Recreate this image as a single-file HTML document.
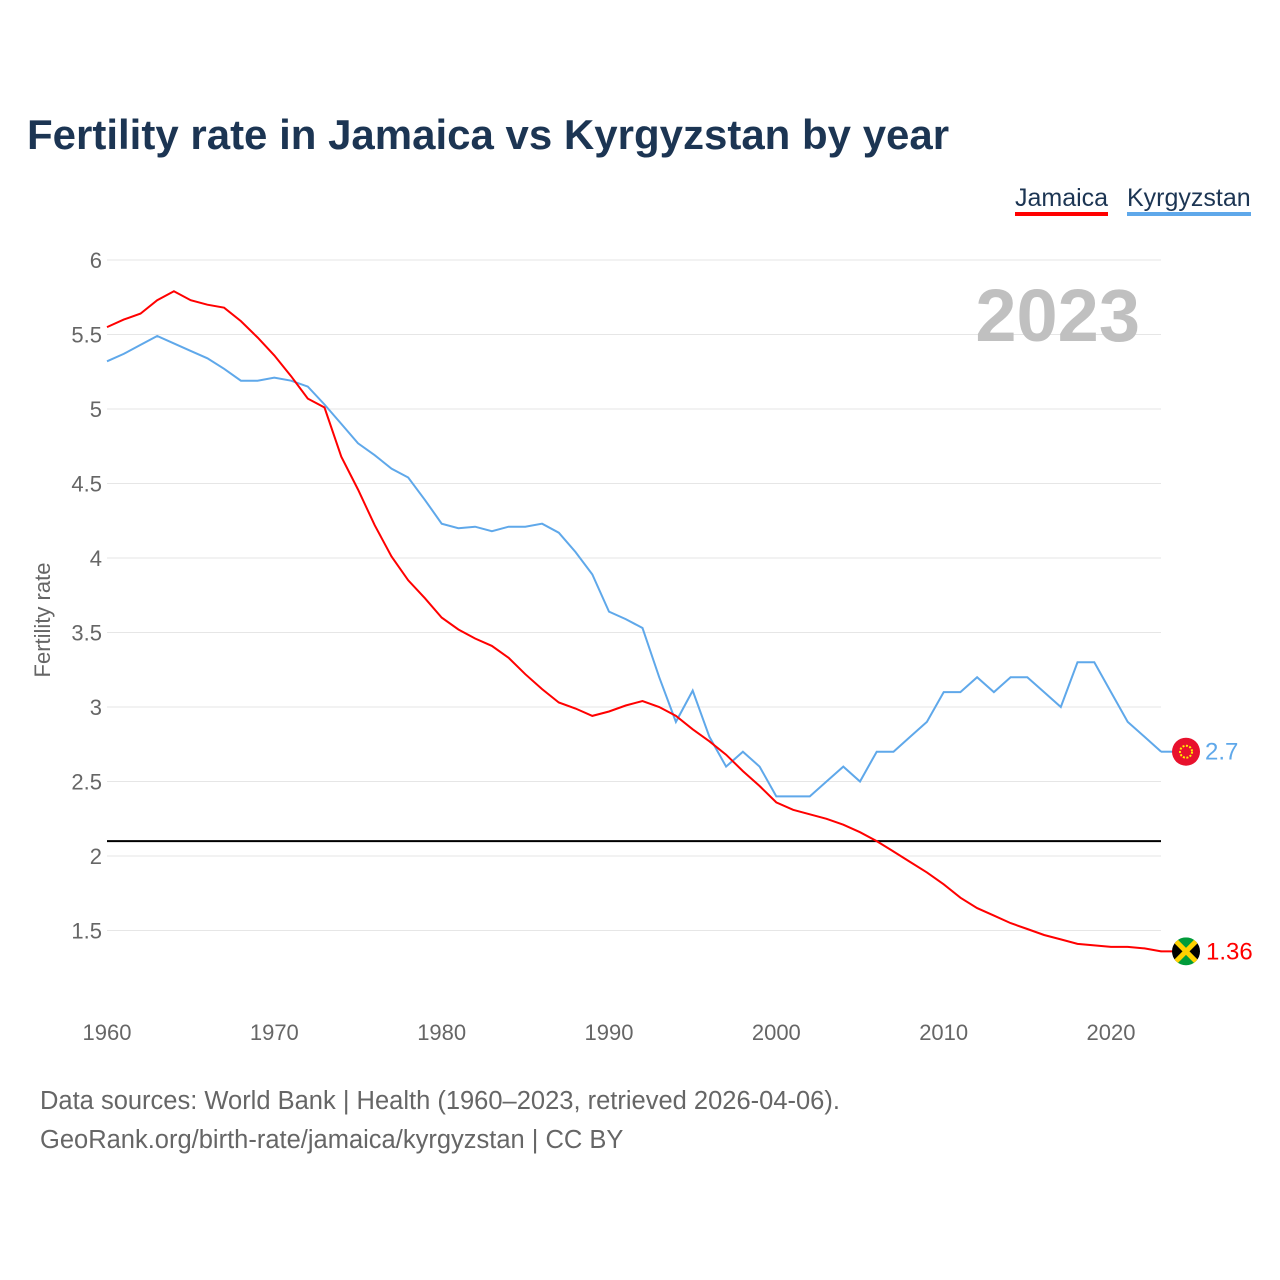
<!DOCTYPE html>
<html><head><meta charset="utf-8">
<style>
body{margin:0;background:#fff;font-family:"Liberation Sans",sans-serif;}
#wrap{position:relative;width:1280px;height:1280px;overflow:hidden;}
.t{position:absolute;white-space:nowrap;}
</style></head>
<body>
<div id="wrap">
<div class="t" style="left:27px;top:111px;font-size:42px;font-weight:bold;color:#1c3553;">Fertility rate in Jamaica vs Kyrgyzstan by year</div>
<div class="t" style="left:1015px;top:184px;font-size:25px;color:#1c3553;border-bottom:4px solid #ff0000;line-height:28px;">Jamaica</div>
<div class="t" style="left:1127px;top:184px;font-size:25px;color:#1c3553;border-bottom:4px solid #5fa8ea;line-height:28px;">Kyrgyzstan</div>
<div class="t" style="left:40px;top:1087px;font-size:25.5px;color:#666;">Data sources: World Bank | Health (1960–2023, retrieved 2026-04-06).</div>
<div class="t" style="left:40px;top:1126px;font-size:25.5px;color:#666;">GeoRank.org/birth-rate/jamaica/kyrgyzstan | CC BY</div>
<svg id="chart" width="1280" height="1280" style="position:absolute;left:0;top:0;"></svg>
</div>
<script>
const years=[];for(let y=1960;y<=2023;y++)years.push(y);
const jamaica=[5.55,5.60,5.64,5.73,5.79,5.73,5.70,5.68,5.59,5.48,5.36,5.22,5.07,5.01,4.68,4.46,4.22,4.01,3.85,3.73,3.60,3.52,3.46,3.41,3.33,3.22,3.12,3.03,2.99,2.94,2.97,3.01,3.04,3.00,2.94,2.85,2.77,2.68,2.57,2.47,2.36,2.31,2.28,2.25,2.21,2.16,2.10,2.03,1.96,1.89,1.81,1.72,1.65,1.60,1.55,1.51,1.47,1.44,1.41,1.40,1.39,1.39,1.38,1.36];
const kyrgyzstan=[5.32,5.37,5.43,5.49,5.44,5.39,5.34,5.27,5.19,5.19,5.21,5.19,5.15,5.03,4.90,4.77,4.69,4.60,4.54,4.39,4.23,4.20,4.21,4.18,4.21,4.21,4.23,4.17,4.04,3.89,3.64,3.59,3.53,3.20,2.90,3.11,2.80,2.60,2.70,2.60,2.40,2.40,2.40,2.50,2.60,2.50,2.70,2.70,2.80,2.90,3.10,3.10,3.20,3.10,3.20,3.20,3.10,3.00,3.30,3.30,3.10,2.90,2.80,2.70];
const yTicks=[1.5,2,2.5,3,3.5,4,4.5,5,5.5,6];
const xTicks=[1960,1970,1980,1990,2000,2010,2020];
const refValue=2.1;
const NS="http://www.w3.org/2000/svg";
const svg=document.getElementById('chart');
const X=y=>107+(y-1960)*(1004/60);
const Y=v=>260+(6-v)*149;
function mk(tag,attrs,txt){const e=document.createElementNS(NS,tag);for(const k in attrs)e.setAttribute(k,attrs[k]);if(txt!==undefined)e.textContent=txt;svg.appendChild(e);return e;}
yTicks.forEach(v=>{
  const g=mk('line',{x1:107,x2:1161,y1:Y(v),y2:Y(v),stroke:'#e6e6e6','stroke-width':1});
  
  
  const t=mk('text',{x:102,y:Y(v)+8,'text-anchor':'end','font-size':22,fill:'#666','font-family':'Liberation Sans'},String(v));
  
  
});
xTicks.forEach(v=>{
  const t=mk('text',{x:X(v),y:1040,'text-anchor':'middle','font-size':22,fill:'#666','font-family':'Liberation Sans'},String(v));
  
  
});
const yt=mk('text',{x:0,y:0,transform:'translate(50,620) rotate(-90)','text-anchor':'middle','font-size':22,fill:'#666','font-family':'Liberation Sans'},'Fertility rate');


const yr=mk('text',{x:1140,y:341,'text-anchor':'end','font-size':74,'font-weight':'bold',fill:'#c0c0c0','font-family':'Liberation Sans'},'2023');


const rl=mk('line',{x1:107,x2:1161,y1:Y(refValue),y2:Y(refValue),stroke:'#000','stroke-width':2});


function series(vals,color,name){
  const d=vals.map((v,i)=>(i?'L':'M')+X(years[i]).toFixed(1)+','+Y(v).toFixed(1)).join('');
  const p=mk('path',{d:d,fill:'none',stroke:color,'stroke-width':2});
  
  
}
series(kyrgyzstan,'#5fa8ea','kyrgyzstan-line');
series(jamaica,'#ff0000','jamaica-line');
const last=years.length-1;
const ky=Y(kyrgyzstan[last]), jy=Y(jamaica[last]);
const kl=mk('line',{x1:1161,x2:1175,y1:ky,y2:ky,stroke:'#5fa8ea','stroke-width':2});


const kf=mk('circle',{cx:1186,cy:ky,r:14,fill:'#e8112d'});


const ks=mk('circle',{cx:1186,cy:ky,r:6,fill:'none',stroke:'#ffef00','stroke-width':2,'stroke-dasharray':'2 1.5'});


const kv=mk('text',{x:1205,y:ky+8,'font-size':24,fill:'#5fa8ea','font-family':'Liberation Sans'},String(kyrgyzstan[last]));


const jl=mk('line',{x1:1161,x2:1175,y1:jy,y2:jy,stroke:'#ff0000','stroke-width':2});


const cp=mk('clipPath',{id:'jc'});
const cc=document.createElementNS(NS,'circle');cc.setAttribute('cx',1186);cc.setAttribute('cy',jy);cc.setAttribute('r',14);cp.appendChild(cc);
const jf=mk('g',{'clip-path':'url(#jc)'});


[['#009b3a',`${1172},${jy-14} ${1200},${jy-14} ${1186},${jy} `],['#009b3a',`${1172},${jy+14} ${1200},${jy+14} ${1186},${jy}`],['#000',`${1172},${jy-14} ${1172},${jy+14} ${1186},${jy}`],['#000',`${1200},${jy-14} ${1200},${jy+14} ${1186},${jy}`]].forEach(a=>{
  const p=document.createElementNS(NS,'polygon');p.setAttribute('points',a[1]);p.setAttribute('fill',a[0]);jf.appendChild(p);
});
[[1172,jy-14,1200,jy+14],[1200,jy-14,1172,jy+14]].forEach(a=>{
  const l=document.createElementNS(NS,'line');l.setAttribute('x1',a[0]);l.setAttribute('y1',a[1]);l.setAttribute('x2',a[2]);l.setAttribute('y2',a[3]);l.setAttribute('stroke','#fed100');l.setAttribute('stroke-width',5);jf.appendChild(l);
});
const jv=mk('text',{x:1206,y:jy+8,'font-size':24,fill:'#ff0000','font-family':'Liberation Sans'},String(jamaica[last]));


</script>
</body></html>
